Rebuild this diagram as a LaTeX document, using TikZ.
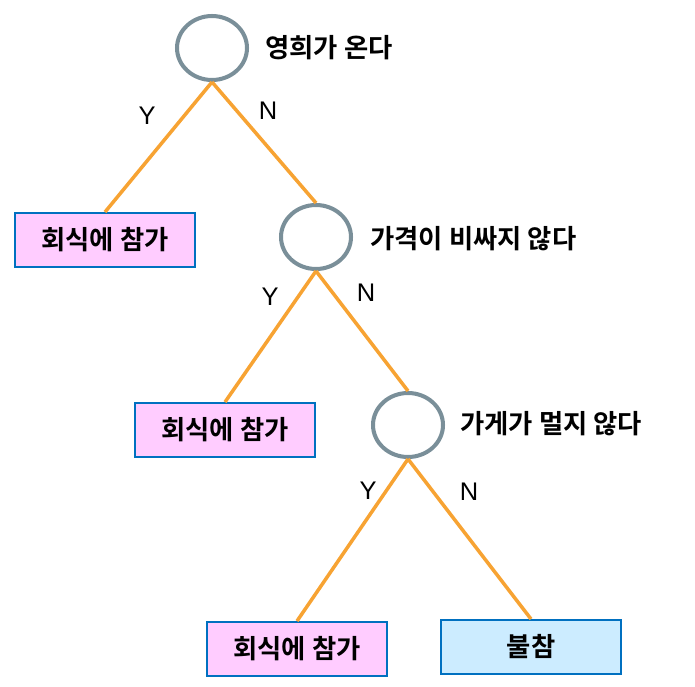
\documentclass[tikz,border=0pt]{standalone}
\usepackage{fontspec}
\setmainfont{Liberation Sans}
\newfontfamily\krfont{Noto Sans CJK KR}[BoldFont={* Bold}]
\usetikzlibrary{positioning}
\usetikzlibrary{shapes.geometric}
\definecolor{ringgray}{HTML}{7A8F99}
\definecolor{edgeorange}{HTML}{F7A333}
\definecolor{boxblue}{HTML}{0070C0}
\definecolor{pinkfill}{HTML}{FFCCFF}
\definecolor{skyfill}{HTML}{CCECFF}

\begin{document}
\begin{tikzpicture}[
  x=0.02cm, y=-0.02cm,
  test/.style={draw=ringgray, line width=2.3pt, ellipse,
    minimum width=1.40cm, minimum height=1.28cm, inner sep=0pt},
  question/.style={font=\krfont\bfseries\fontsize{15}{18}\selectfont,
    anchor=west, inner sep=0pt},
  leaf/.style={draw=boxblue, line width=1.1pt, fill=pinkfill,
    minimum width=3.6cm, minimum height=1.08cm,
    font=\krfont\bfseries\fontsize{15}{18}\selectfont},
  reject/.style={leaf, fill=skyfill},
  branch/.style={draw=edgeorange, line width=2pt},
  yn/.style={font=\fontsize{14.5}{17}\selectfont, inner sep=0pt}
]
\useasboundingbox (0,0) rectangle (695,686);

% --- tests ---
\node[test] (T1) at (212,48) {};
\node[test] (T2) at (316,237) {};
\node[test] (T3) at (408,425) {};

\node[question] (Q1) at (265,48) {영희가 온다};
\node[question] (Q2) at (370,239) {가격이 비싸지 않다};
\node[question] (Q3) at (460,424) {가게가 멀지 않다};

% --- leaves ---
\node[leaf] (L1) at (105,240) {회식에 참가};
\node[leaf] (L2) at (225,430) {회식에 참가};
\node[leaf] (L3) at (297,649) {회식에 참가};
\node[reject] (L4) at (531,647) {불참};

% --- branches ---
\draw[branch] (T1.south) -- (L1.north);
\draw[branch] (T1.south) -- (T2.north);
\draw[branch] (T2.south) -- (L2.north);
\draw[branch] (T2.south) -- (T3.north);
\draw[branch] (T3.south) -- (L3.north);
\draw[branch] (T3.south) -- (L4.north);

\node[yn] (Y1) at (147,116) {Y};
\node[yn] (N1) at (268,111) {N};
\node[yn] (Y2) at (270,297) {Y};
\node[yn] (N2) at (366,293) {N};
\node[yn] (Y3) at (368,491) {Y};
\node[yn] (N3) at (469,492) {N};

\end{tikzpicture}
\end{document}
